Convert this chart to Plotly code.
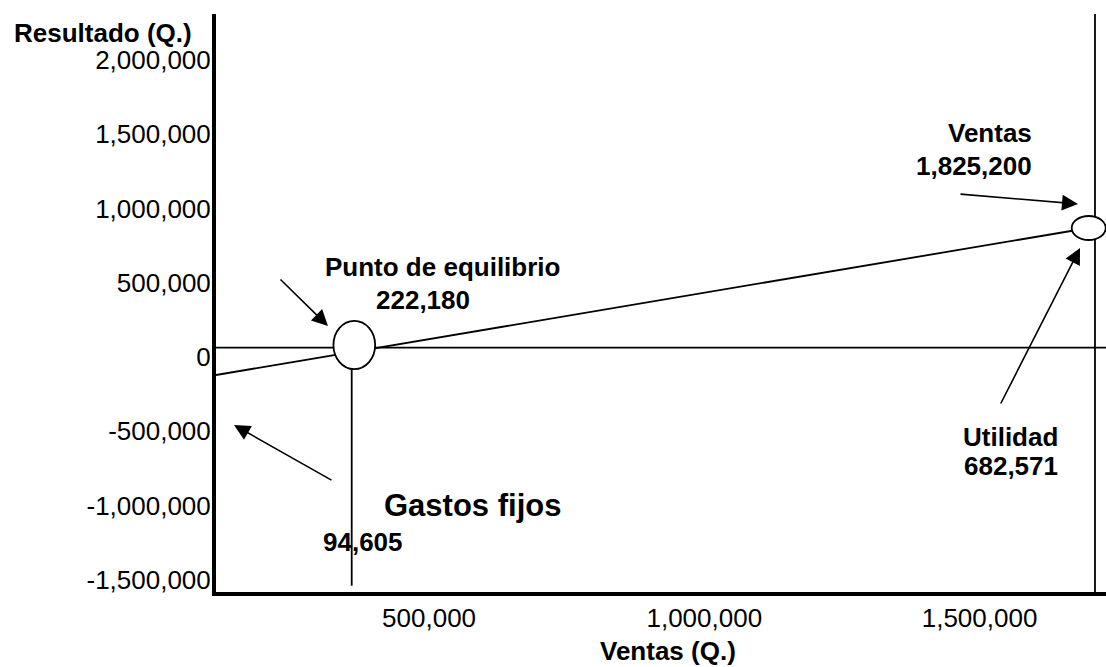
import plotly.graph_objects as go

# ---- data ----
x_tick_vals = [500000, 1000000, 1500000]
x_tick_text = ["500,000", "1,000,000", "1,500,000"]
y_tick_vals = [-1500000, -1000000, -500000, 0, 500000, 1000000, 1500000, 2000000]
y_tick_text = ["-1,500,000", "-1,000,000", "-500,000", "0",
               "500,000", "1,000,000", "1,500,000", "2,000,000"]

# lines
utilidad_x = [113000, 1698300]
utilidad_y = [-120500, 869400]
gastos_x = [113000, 1729700]
gastos_y = [63300, 63300]
equilibrio_x = [359500, 359500]
equilibrio_y = [81500, -1539400]
tope_x = [1709700, 1709700]
tope_y = [2310400, -1581800]

# points (ellipses)
punto_equilibrio = (364200, 81500)
punto_ventas = (1698300, 869400)

# arrows: (tail_x, tail_y, tip_x, tip_y)
flechas = [
    (1462700, 1098300, 1678800, 1031000),   # Ventas
    (1537100, -322600, 1682500, 734700),    # Utilidad
    (227400, 532700, 316400, 209400),       # Punto de equilibrio
    (325500, -834300, 145700, -457200),     # Gastos fijos
]

# labels: (text, x, y, size)
etiquetas = [
    ("Punto de equilibrio", 525300, 606700, 26),
    ("222,180", 489900, 384500, 26),
    ("Gastos fijos", 579800, -996000, 31),
    ("94,605", 380000, -1245100, 26),
    ("Ventas", 1519000, 1509100, 26),
    ("1,825,200", 1489900, 1286900, 26),
    ("Utilidad", 1557100, -536000, 26),
    ("682,571", 1557100, -730000, 26),
]
titulo_y = "Resultado (Q.)"
titulo_x = "Ventas (Q.)"

FONT = "Liberation Sans, Arial, sans-serif"
LW = 1.8

fig = go.Figure()
for xs, ys in [(gastos_x, gastos_y), (utilidad_x, utilidad_y),
               (equilibrio_x, equilibrio_y), (tope_x, tope_y)]:
    fig.add_trace(go.Scatter(x=xs, y=ys, mode="lines",
                             line=dict(color="black", width=LW),
                             showlegend=False, hoverinfo="skip", cliponaxis=True))

# ellipses (white filled) on top of the lines
rx1, ry1 = 37900, 162600
rx2, ry2 = 30900, 80800
for (cx, cy), rx, ry in [(punto_equilibrio, rx1, ry1), (punto_ventas, rx2, ry2)]:
    fig.add_shape(type="circle", xref="x", yref="y",
                  x0=cx - rx, x1=cx + rx, y0=cy - ry, y1=cy + ry,
                  fillcolor="white", line=dict(color="black", width=LW),
                  layer="above")

for tx, ty, hx, hy in flechas:
    fig.add_annotation(x=hx, y=hy, ax=tx, ay=ty, xref="x", yref="y",
                       axref="x", ayref="y", text="", showarrow=True,
                       arrowhead=2, arrowsize=2.0, arrowwidth=1.6,
                       arrowcolor="black")

for txt, x, y, s in etiquetas:
    fig.add_annotation(x=x, y=y, xref="x", yref="y", text="<b>%s</b>" % txt,
                       showarrow=False, font=dict(family=FONT, size=s, color="black"),
                       xanchor="center", yanchor="middle")

fig.add_annotation(x=(103 - 216) / 890, y=(592 - 33) / 578, xref="paper", yref="paper",
                   text="<b>%s</b>" % titulo_y, showarrow=False,
                   font=dict(family=FONT, size=26, color="black"),
                   xanchor="center", yanchor="middle")
fig.add_annotation(x=(667.5 - 216) / 890, y=(592 - 651) / 578, xref="paper", yref="paper",
                   text="<b>%s</b>" % titulo_x, showarrow=False,
                   font=dict(family=FONT, size=26, color="black"),
                   xanchor="center", yanchor="middle")

fig.update_layout(
    width=1106, height=667,
    margin=dict(l=216, r=0, t=14, b=75, pad=0),
    paper_bgcolor="white", plot_bgcolor="white",
    font=dict(family=FONT, size=26, color="black"),
    showlegend=False,
    xaxis=dict(range=[113000, 1729700], showgrid=False, zeroline=False,
               showline=True, linewidth=4, linecolor="black", ticks="",
               tickvals=x_tick_vals, ticktext=x_tick_text,
               tickfont=dict(family=FONT, size=26, color="black"),
               fixedrange=True),
    yaxis=dict(range=[-1581800, 2310400], showgrid=False, zeroline=False,
               showline=True, linewidth=4, linecolor="black", ticks="",
               tickvals=y_tick_vals, ticktext=y_tick_text,
               ticklabelstandoff=-4,
               tickfont=dict(family=FONT, size=26, color="black"),
               fixedrange=True),
)

fig.write_html("out.html", config={"displayModeBar": False})

# remove the default page margin so the figure sits at the window's top-left corner
with open("out.html", "r", encoding="utf-8") as f:
    html = f.read()
html = html.replace("<head>", "<head><style>html,body{margin:0;padding:0;overflow:hidden;}</style>", 1)
with open("out.html", "w", encoding="utf-8") as f:
    f.write(html)
